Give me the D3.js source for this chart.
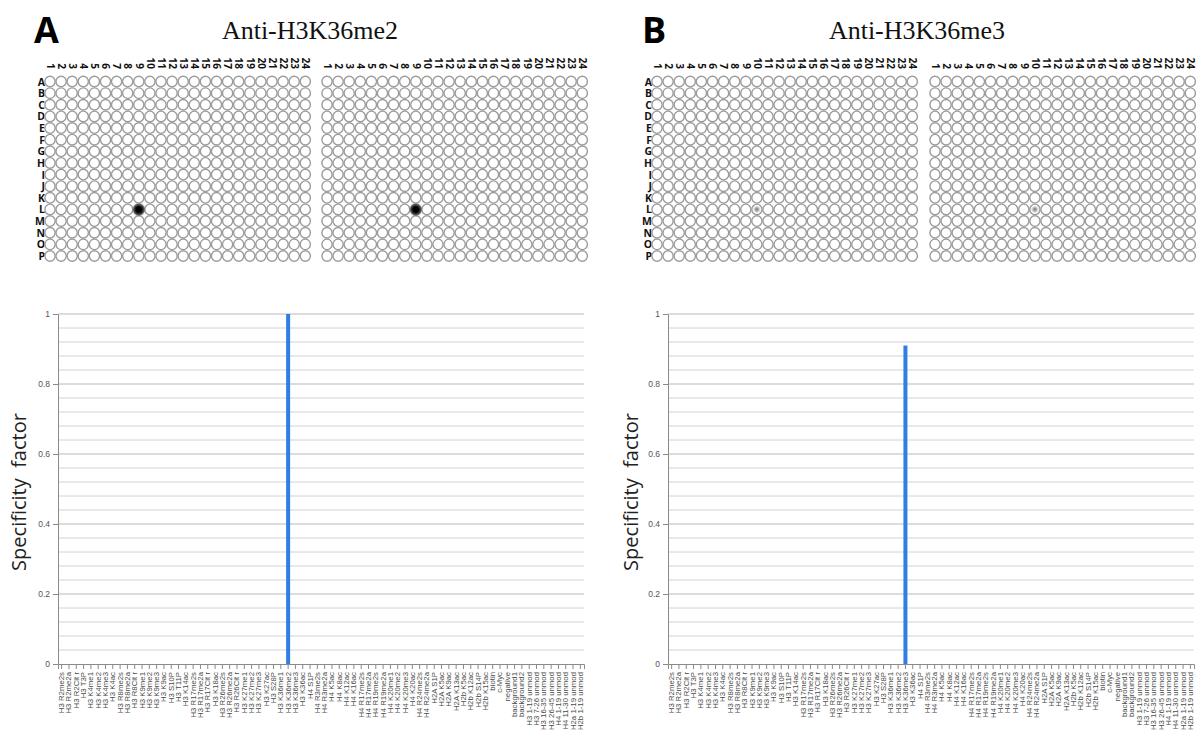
<!DOCTYPE html>
<html lang="en">
<head>
<meta charset="UTF-8">
<title>Specificity factor</title>
<script src="https://d3js.org/d3.v7.min.js"></script>
<style>
  body { margin: 0; background: #fff; }
  svg { display: block; font-family: 'Open Sans', sans-serif; }
  .panel-letter { font-family: 'Open Sans', sans-serif; font-weight: bold; font-size: 36px; fill: #000; }
  .title { font-family: 'Liberation Serif', 'Times New Roman', serif; font-size: 26px; fill: #111; text-anchor: middle; }
  .row-label, .col-label { font-weight: bold; fill: #111; }
  .row-label { font-size: 10.5px; text-anchor: end; }
  .col-label { font-size: 10px; text-anchor: end; }
  .y-title { font-size: 20px; fill: #222; text-anchor: middle; white-space: pre; }
  .axis text { font-family: Arial, 'Liberation Sans', sans-serif; fill: #555; }
  .axis path, .axis line { stroke: #8a8a8a; }
</style>
</head>
<body>
<svg width="1198" height="744"></svg>
<script>
const rowLetters = ["A","B","C","D","E","F","G","H","I","J","K","L","M","N","O","P"];
const colNumbers = [1,2,3,4,5,6,7,8,9,10,11,12,13,14,15,16,17,18,19,20,21,22,23,24];

const peptides = [
  "H3 R2me2s","H3 R2me2a","H3 R2Cit r","H3 T3P","H3 K4me1","H3 K4me2","H3 K4me3","H3 K4ac",
  "H3 R8me2s","H3 R8me2a","H3 R8Cit r","H3 K9me1","H3 K9me2","H3 K9me3","H3 K9ac","H3 S10P",
  "H3 T11P","H3 K14ac","H3 R17me2s","H3 R17me2a","H3 R17Cit r","H3 K18ac","H3 R26me2s","H3 R26me2a",
  "H3 R26Cit r","H3 K27me1","H3 K27me2","H3 K27me3","H3 K27ac","H3 S28P","H3 K36me1","H3 K36me2",
  "H3 K36me3","H3 K36ac","H4 S1P","H4 R3me2s","H4 R3me2a","H4 K5ac","H4 K8ac","H4 K12ac",
  "H4 K16ac","H4 R17me2s","H4 R17me2a","H4 R19me2s","H4 R19me2a","H4 K20me1","H4 K20me2","H4 K20me3",
  "H4 K20ac","H4 R24me2s","H4 R24me2a","H2A S1P","H2A K5ac","H2A K9ac","H2A K13ac","H2b K5ac",
  "H2b K12ac","H2b S14P","H2b K15ac","biotin","c-Myc","negative","background1","background2",
  "H3 1-19 unmod","H3 7-26 unmod","H3 16-35 unmod","H3 26-45 unmod","H4 1-19 unmod","H4 11-30 unmod","H2a 1-19 unmod","H2b 1-19 unmod"
];

// specificity factor per peptide
const specK36me2 = [
  0,0,0,0,0,0,0,0, 0,0,0,0,0,0,0,0, 0,0,0,0,0,0,0,0, 0,0,0,0,0,0,0,1,
  0,0,0,0,0,0,0,0, 0,0,0,0,0,0,0,0, 0,0,0,0,0,0,0,0, 0,0,0,0,0,0,0,0,
  0,0,0,0,0,0,0,0
];
const specK36me3 = [
  0,0,0,0,0,0,0,0, 0,0,0,0,0,0,0,0, 0,0,0,0,0,0,0,0, 0,0,0,0,0,0,0,0,
  0.91,0,0,0,0,0,0,0, 0,0,0,0,0,0,0,0, 0,0,0,0,0,0,0,0, 0,0,0,0,0,0,0,0,
  0,0,0,0,0,0,0,0
];

const yTicks = [0, 0.2, 0.4, 0.6, 0.8, 1];

// array spots: duplicate copy index, row, column, signal
const spotsK36me2 = [
  { copy: 0, row: "L", col: 9, signal: 1 },
  { copy: 1, row: "L", col: 9, signal: 1 }
];
const spotsK36me3 = [
  { copy: 0, row: "L", col: 10, signal: 0.35 },
  { copy: 1, row: "L", col: 10, signal: 0.35 }
];

const panels = [
  { letter: "A", letterX: 34, title: "Anti-H3K36me2", titleX: 310, gridX: [50, 327],
    axisX: [58, 584], yTitleX: 26, values: specK36me2, spots: spotsK36me2 },
  { letter: "B", letterX: 642, title: "Anti-H3K36me3", titleX: 917, gridX: [657, 935],
    axisX: [668, 1194], yTitleX: 638, values: specK36me3, spots: spotsK36me3 }
];

const svg = d3.select("svg");
const defs = svg.append("defs");
defs.append("filter").attr("id", "blur")
    .attr("x", "-50%").attr("y", "-50%").attr("width", "200%").attr("height", "200%")
  .append("feGaussianBlur").attr("stdDeviation", 0.9);

const yScale = d3.scaleLinear().domain([0, 1]).range([664, 314]);
const rowScale = d3.scalePoint().domain(rowLetters).range([81.5, 256]);

panels.forEach(function(p) {
    const g = svg.append("g");

    g.append("text").attr("class", "panel-letter")
        .attr("x", p.letterX).attr("y", 43).text(p.letter);
    g.append("text").attr("class", "title")
        .attr("x", p.titleX).attr("y", 39).text(p.title);

    // row letters
    g.selectAll(".row-label")
        .data(rowLetters)
        .enter()
        .append("text")
        .attr("class", "row-label")
        .attr("x", p.gridX[0] - 5)
        .attr("y", function(d) { return rowScale(d) + 4; })
        .text(function(d) { return d; });

    p.gridX.forEach(function(x0, copy) {
        const colScale = d3.scalePoint().domain(colNumbers).range([x0, x0 + 23 * 11.1]);

        g.selectAll(".col-label-" + copy)
            .data(colNumbers)
            .enter()
            .append("text")
            .attr("class", "col-label col-label-" + copy)
            .attr("transform", function(d) {
                return "translate(" + (colScale(d) - 3.3) + ",69) rotate(90)";
            })
            .text(function(d) { return d; });

        const cells = [];
        rowLetters.forEach(function(r) {
            colNumbers.forEach(function(c) { cells.push({ row: r, col: c }); });
        });

        g.selectAll(".well-" + copy)
            .data(cells)
            .enter()
            .append("ellipse")
            .attr("class", "well-" + copy)
            .attr("cx", function(d) { return colScale(d.col); })
            .attr("cy", function(d) { return rowScale(d.row); })
            .attr("rx", 5.1)
            .attr("ry", 5.3)
            .attr("fill", "#fff")
            .attr("stroke", "#9c9c9c")
            .attr("stroke-width", 1.4);

        g.selectAll(".spot-" + copy)
            .data(p.spots.filter(function(s) { return s.copy === copy; }))
            .enter()
            .append("circle")
            .attr("class", "spot-" + copy)
            .attr("cx", function(d) { return colScale(d.col); })
            .attr("cy", function(d) { return rowScale(d.row); })
            .attr("r", function(d) { return d.signal > 0.5 ? 5.2 : 2.4; })
            .attr("fill", function(d) { return d.signal > 0.5 ? "#000" : "#7a7a7a"; })
            .attr("filter", "url(#blur)");
    });

    // bar chart
    const xScale = d3.scaleBand().domain(peptides).range(p.axisX).padding(0);

    g.selectAll(".grid")
        .data(d3.range(1, 26).map(function(i) { return i * 0.04; }))
        .enter()
        .append("line")
        .attr("x1", p.axisX[0])
        .attr("x2", p.axisX[1])
        .attr("y1", function(d) { return yScale(d); })
        .attr("y2", function(d) { return yScale(d); })
        .attr("stroke", function(d, i) { return (i + 1) % 5 === 0 ? "#b9b9b9" : "#d2d2d2"; })
        .attr("stroke-width", 1);

    const yAxis = g.append("g")
        .attr("class", "axis")
        .attr("transform", "translate(" + p.axisX[0] + ",0)")
        .call(d3.axisLeft(yScale).tickValues(yTicks).tickFormat(d3.format("~g")).tickSize(5).tickSizeOuter(0));
    yAxis.selectAll("text").style("font-size", "8.5px");

    const xAxis = g.append("g")
        .attr("class", "axis")
        .attr("transform", "translate(0,664)")
        .call(d3.axisBottom(xScale).tickSize(5).tickSizeOuter(5));
    xAxis.selectAll("text")
        .style("font-size", "7.8px")
        .style("fill", "#4a4a4a")
        .attr("text-anchor", "end")
        .attr("transform", "rotate(-90)")
        .attr("x", -8)
        .attr("y", 0)
        .attr("dy", "0.32em");

    g.selectAll(".bar")
        .data(peptides.map(function(name, i) { return { name: name, value: p.values[i] }; }))
        .enter()
        .append("rect")
        .attr("class", "bar")
        .attr("x", function(d) { return xScale(d.name) + xScale.bandwidth() / 2 - 2; })
        .attr("width", 4)
        .attr("y", function(d) { return yScale(d.value); })
        .attr("height", function(d) { return yScale(0) - yScale(d.value); })
        .attr("fill", "#2f7ee3");

    g.append("text")
        .attr("class", "y-title")
        .attr("transform", "translate(" + p.yTitleX + ",492) rotate(-90)")
        .text("Specificity  factor");
});
</script>
</body>
</html>
